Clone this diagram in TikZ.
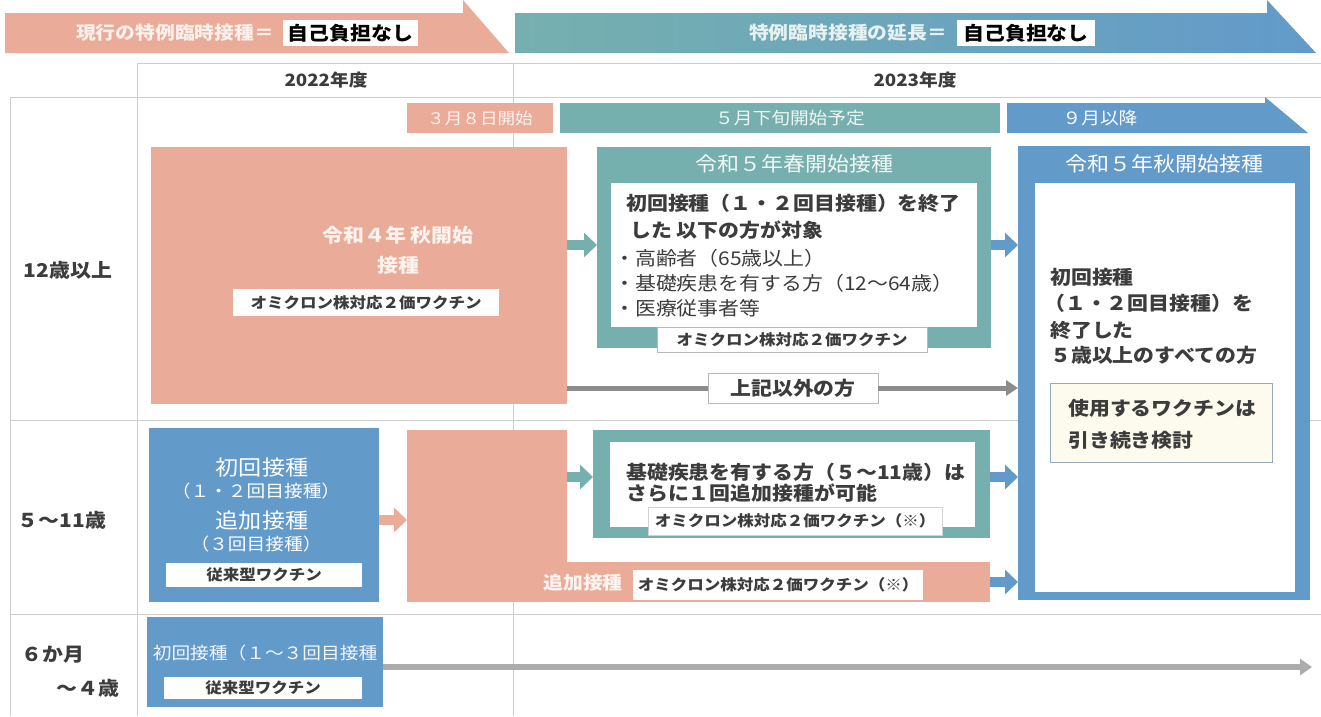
\documentclass[tikz,border=0pt]{standalone}
\usepackage{fontspec}
\setmainfont{Noto Sans CJK JP}[FakeStretch=1.1]
\usetikzlibrary{arrows.meta}
\definecolor{salmonc}{RGB}{234,172,152}
\definecolor{tealc}{RGB}{118,176,174}
\definecolor{bluec}{RGB}{98,154,202}
\definecolor{textc}{RGB}{60,60,60}
\definecolor{gridc}{RGB}{205,205,205}
\definecolor{grayarr}{RGB}{140,140,140}
\definecolor{lightarr}{RGB}{172,172,172}
\definecolor{yelc}{RGB}{252,251,238}
\definecolor{yelb}{RGB}{150,170,190}
\newcommand\fsz[1]{\fontsize{#1}{#1}\selectfont}
\begin{document}
\begin{tikzpicture}[x=1pt,y=-1pt,
  box/.style={rectangle, inner sep=0pt, outer sep=0pt},
  salbox/.style={box, fill=salmonc},
  bluebox/.style={box, fill=bluec},
  tealbox/.style={box, fill=tealc},
  whitebox/.style={box, fill=white},
  tag/.style={box, fill=white, font=\bfseries\fsz{15}, text=textc},
  tagline/.style={tag, draw=gray!55, line width=0.8pt},
  dark/.style={inner sep=0pt, text=textc, font=\bfseries\fsz{19}},
  wtext/.style={inner sep=0pt, text=white, font=\fsz{19}},
  gridline/.style={draw=gridc, line width=0.8pt},
  blockarrow/.style={line width=10pt, -{Triangle[length=13pt,width=24pt]}},
  grayline/.style={line width=5pt, draw=grayarr}
]
\useasboundingbox (0,0) rectangle (1321,716);
\fill[white] (0,0) rectangle (1321,716);

% grid
\draw[gridline] (137,63) -- (1321,63);
\draw[gridline] (10,97) -- (1321,97);
\draw[gridline] (10,420) -- (1321,420);
\draw[gridline] (10,614) -- (1321,614);
\draw[gridline] (10,97) -- (10,716);
\draw[gridline] (137,63) -- (137,716);
\draw[gridline] (513,63) -- (513,716);

% top bands
\fill[salmonc] (5,13) -- (463,13) -- (463,0) -- (509,53) -- (5,53) -- cycle;
\shade[left color=tealc, right color=bluec] (515,13) -- (1267,13) -- (1267,0) -- (1316,53) -- (515,53) -- cycle;
\node[inner sep=0pt, text=white!82!salmonc, font=\bfseries\fsz{18}] (cur) at (175,33) {現行の特例臨時接種＝};
\node[whitebox, minimum width=135pt, minimum height=26pt, font=\bfseries\fsz{19}, text=black] (free1) at (350.5,33) {自己負担なし};
\node[inner sep=0pt, text=white!82!tealc, font=\bfseries\fsz{18}] (ext) at (848,33) {特例臨時接種の延長＝};
\node[whitebox, minimum width=138pt, minimum height=26pt, font=\bfseries\fsz{19}, text=black] (free2) at (1026,33) {自己負担なし};

% years
\node[dark, font=\bfseries\fsz{17}] (y22) at (326,80) {2022年度};
\node[dark, font=\bfseries\fsz{17}] (y23) at (915,80) {2023年度};

% date bands
\node[salbox, minimum width=146pt, minimum height=30pt, text=white!85!salmonc, font=\fsz{16}] (d1) at (480,118) {３月８日開始};
\node[tealbox, minimum width=440pt, minimum height=30pt] (d2) at (780,118) {};
\node[inner sep=0pt, text=white!88!tealc, font=\fsz{17}] (d2t) at (790,118) {５月下旬開始予定};
\fill[bluec] (1007,103) -- (1265,103) -- (1265,97) -- (1308,133) -- (1007,133) -- cycle;
\node[inner sep=0pt, text=white, font=\fsz{17}] (d3) at (1100,118) {９月以降};

% row labels
\node[dark] (r1) at (68,270) {12歳以上};
\node[dark] (r2) at (62,520) {５〜11歳};
\node[dark] (r3a) at (53,655) {６か月};
\node[dark] (r3b) at (88,688) {〜４歳};

% 12+ row
\node[salbox, minimum width=416pt, minimum height=257pt] (sal1) at (359,275.5) {};
\node[inner sep=0pt, align=center, text=white!85!salmonc, font=\bfseries\fontsize{19}{30}\selectfont] (sal1t) at (398,250) {令和４年 秋開始\\接種};
\node[tag, minimum width=266pt, minimum height=27pt] (sal1l) at (366,302.5) {オミクロン株対応２価ワクチン};

\node[tealbox, minimum width=394pt, minimum height=201pt] (spr) at (794,247.5) {};
\node[inner sep=0pt, text=white!90!tealc, font=\fsz{20}] (sprt) at (794,164) {令和５年春開始接種};
\node[whitebox, minimum width=366pt, minimum height=144pt] (spri) at (794,255) {};
\node[dark, anchor=west] (s1) at (626,203) {初回接種（１・２回目接種）を終了};
\node[dark, anchor=west] (s2) at (630,230) {した 以下の方が対象};
\node[dark, anchor=west, font=\fsz{19}] (s3) at (614,258) {・高齢者（65歳以上）};
\node[dark, anchor=west, font=\fsz{19}] (s4) at (614,283) {・基礎疾患を有する方（12〜64歳）};
\node[dark, anchor=west, font=\fsz{19}] (s5) at (614,308) {・医療従事者等};
\node[tagline, minimum width=270pt, minimum height=25pt] (sprl) at (792,339.5) {オミクロン株対応２価ワクチン};

\node[bluebox, minimum width=292pt, minimum height=454pt] (aut) at (1164,373) {};
\node[inner sep=0pt, text=white, font=\fsz{20}] (autt) at (1164,164) {令和５年秋開始接種};
\node[whitebox, minimum width=260pt, minimum height=409pt] (auti) at (1165,387.5) {};
\node[dark, anchor=west] (a1) at (1050,277) {初回接種};
\node[dark, anchor=west] (a2) at (1044,303) {（１・２回目接種）を};
\node[dark, anchor=west] (a3) at (1050,330) {終了した};
\node[dark, anchor=west] (a4) at (1050,355) {５歳以上のすべての方};
\node[box, fill=yelc, draw=yelb, line width=1pt, minimum width=222pt, minimum height=79pt] (yel) at (1161,422.5) {};
\node[dark, anchor=west, align=left, font=\bfseries\fontsize{19}{32}\selectfont] (yelt) at (1068,424) {使用するワクチンは\\引き続き検討};

\node[tagline, minimum width=170pt, minimum height=30pt, font=\bfseries\fsz{19}] (oth) at (793,388) {上記以外の方};
\draw[grayline] (sal1.east |- oth.west) -- (oth.west);
\draw[grayline, -{Triangle[length=12pt,width=15pt]}] (oth.east) -- (aut.west |- oth.east);

\draw[blockarrow, draw=tealc] (sal1.east |- 0,245) -- (spr.west |- 0,245);
\draw[blockarrow, draw=bluec] (spr.east |- 0,245) -- (aut.west |- 0,245);

% 5-11 row
\node[bluebox, minimum width=230pt, minimum height=174pt] (b511) at (264,515) {};
\node[wtext, font=\fsz{21}] (b1) at (262,468) {初回接種};
\node[wtext, font=\fsz{17}] (b2) at (256,491) {（１・２回目接種）};
\node[wtext, font=\fsz{21}] (b3) at (262,520) {追加接種};
\node[wtext, font=\fsz{17}] (b4) at (256,544) {（３回目接種）};
\node[tag, minimum width=196pt, minimum height=24pt] (b511l) at (264,575) {従来型ワクチン};

\node[salbox, minimum width=160pt, minimum height=172pt] (sal2) at (487,516) {};
\node[salbox, minimum width=583pt, minimum height=40pt] (sal3) at (698.5,582) {};
\node[inner sep=0pt, text=white!85!salmonc, font=\bfseries\fsz{18}] (sal3t) at (583,583) {追加接種};
\node[tag, minimum width=290pt, minimum height=30pt] (sal3l) at (778,585) {オミクロン株対応２価ワクチン（※）};

\node[tealbox, minimum width=397pt, minimum height=108pt] (f511) at (791.5,484) {};
\node[whitebox, minimum width=365pt, minimum height=85pt] (f511i) at (792.5,484.5) {};
\node[dark, anchor=west] (f1) at (626,472) {基礎疾患を有する方（５〜11歳）は};
\node[dark, anchor=west] (f2) at (626,493) {さらに１回追加接種が可能};
\node[tagline, draw=gray!35, minimum width=294pt, minimum height=28pt] (f511l) at (795,521) {オミクロン株対応２価ワクチン（※）};

\draw[blockarrow, draw=salmonc] (b511.east |- 0,520) -- (sal2.west |- 0,520);
\draw[blockarrow, draw=tealc] (sal2.east |- 0,477) -- (f511.west |- 0,477);
\draw[blockarrow, draw=bluec] (f511.east |- 0,477) -- (aut.west |- 0,477);
\draw[blockarrow, draw=bluec] (sal3.east) -- (aut.west |- sal3.east);

% 6 months - 4 years row
\node[bluebox, minimum width=236pt, minimum height=90pt] (b6) at (265,662) {};
\node[wtext, font=\fsz{17}, text=white!92!bluec] (b6t) at (265,653) {初回接種（１〜３回目接種};
\node[tag, minimum width=198pt, minimum height=22pt] (b6l) at (263,688) {従来型ワクチン};
\coordinate (end6) at (1312,667);
\draw[line width=6pt, draw=lightarr, -{Triangle[length=12pt,width=16pt]}] (b6.east |- end6) -- (end6);
\end{tikzpicture}
\end{document}
